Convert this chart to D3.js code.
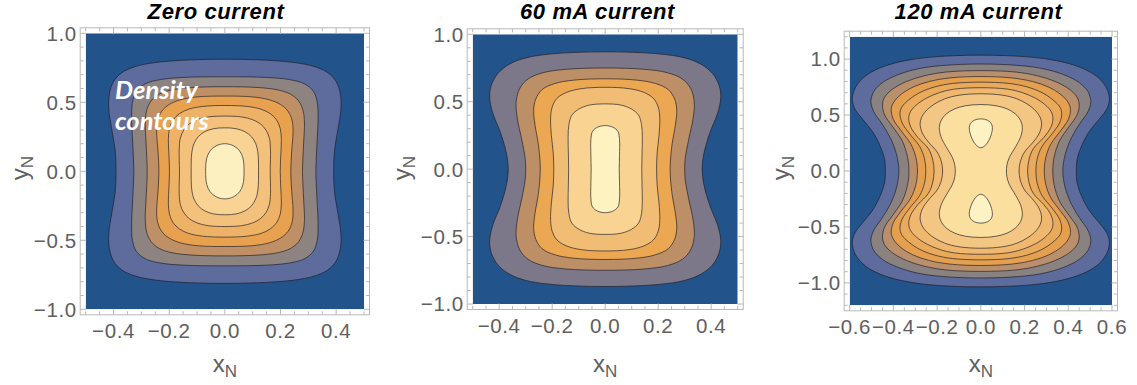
<!DOCTYPE html>
<html><head><meta charset="utf-8">
<script src="https://cdn.jsdelivr.net/npm/d3@7"></script>
<style>body{margin:0;background:#fff;} svg{display:block;}</style>
</head><body>
<svg id="chart" width="1137" height="385"></svg>
<script>
// ---------------- data ----------------
const titles = ["Zero current", "60 mA current", "120 mA current"];
const xDomains = [[-0.5, 0.5], [-0.5, 0.5], [-0.6, 0.6]];
const yDomains = [[-1, 1], [-1, 1], [-1.2, 1.2]];
const xTickValues = [[-0.4, -0.2, 0, 0.2, 0.4], [-0.4, -0.2, 0, 0.2, 0.4], [-0.6, -0.4, -0.2, 0, 0.2, 0.4, 0.6]];
const yTickValues = [[-1, -0.5, 0, 0.5, 1], [-1, -0.5, 0, 0.5, 1], [-1, -0.5, 0, 0.5, 1]];
const xMinorStep = 0.05, yMinorStep = 0.1;
const annotation = ["Density", "contours"];

// Density contour levels: one quadrant (x>=0, y>=0), from (0, top) to (halfwidth, 0)
const contoursZero = [
  [[0,0.812],[0.15,0.805],[0.25,0.788],[0.32,0.76],[0.37,0.715],[0.40,0.65],[0.415,0.56],[0.417,0.45],[0.406,0.3],[0.394,0.15],[0.391,0]],
  [[0,0.685],[0.15,0.68],[0.23,0.665],[0.285,0.635],[0.318,0.58],[0.332,0.5],[0.335,0.38],[0.331,0.2],[0.327,0]],
  [[0,0.613],[0.12,0.607],[0.19,0.59],[0.235,0.56],[0.265,0.51],[0.281,0.44],[0.286,0.35],[0.283,0.2],[0.279,0]],
  [[0,0.545],[0.1,0.539],[0.16,0.518],[0.2,0.484],[0.227,0.435],[0.242,0.365],[0.245,0.28],[0.24,0.14],[0.237,0]],
  [[0,0.477],[0.08,0.47],[0.13,0.45],[0.163,0.418],[0.186,0.372],[0.199,0.31],[0.203,0.23],[0.201,0.12],[0.199,0]],
  [[0,0.40],[0.06,0.394],[0.1,0.374],[0.128,0.343],[0.148,0.298],[0.16,0.24],[0.164,0.16],[0.163,0]],
  [[0,0.315],[0.04,0.309],[0.072,0.287],[0.095,0.252],[0.111,0.2],[0.119,0.13],[0.121,0]],
  [[0,0.20],[0.032,0.184],[0.053,0.148],[0.065,0.095],[0.069,0]]
];
const contours60 = [
  [[0,0.87],[0.2,0.855],[0.3,0.825],[0.36,0.78],[0.405,0.71],[0.43,0.62],[0.436,0.53],[0.425,0.42],[0.395,0.27],[0.373,0.12],[0.366,0]],
  [[0,0.75],[0.15,0.74],[0.235,0.715],[0.29,0.67],[0.322,0.6],[0.336,0.5],[0.332,0.38],[0.315,0.22],[0.302,0.08],[0.3,0]],
  [[0,0.67],[0.12,0.66],[0.19,0.635],[0.238,0.59],[0.262,0.52],[0.27,0.44],[0.265,0.33],[0.252,0.18],[0.245,0]],
  [[0,0.607],[0.09,0.597],[0.145,0.57],[0.182,0.525],[0.2,0.46],[0.206,0.38],[0.203,0.25],[0.196,0.12],[0.194,0]],
  [[0,0.484],[0.06,0.475],[0.1,0.445],[0.126,0.4],[0.137,0.33],[0.14,0.24],[0.139,0.12],[0.138,0]],
  [[0,0.323],[0.03,0.31],[0.048,0.28],[0.054,0.22],[0.054,0.1],[0.053,0]]
];
const contours120 = [
  [[0,1.035],[0.2,1.022],[0.32,0.995],[0.42,0.95],[0.5,0.885],[0.55,0.81],[0.58,0.72],[0.588,0.63],[0.575,0.55],[0.54,0.46],[0.495,0.35],[0.46,0.22],[0.44,0.1],[0.437,0]],
  [[0,0.956],[0.18,0.942],[0.29,0.912],[0.38,0.86],[0.45,0.79],[0.49,0.71],[0.503,0.62],[0.49,0.53],[0.455,0.43],[0.415,0.3],[0.386,0.15],[0.375,0]],
  [[0,0.897],[0.16,0.884],[0.26,0.85],[0.34,0.8],[0.405,0.73],[0.44,0.66],[0.45,0.59],[0.44,0.5],[0.405,0.4],[0.36,0.27],[0.336,0.13],[0.329,0]],
  [[0,0.844],[0.14,0.832],[0.235,0.8],[0.31,0.75],[0.368,0.68],[0.4,0.61],[0.41,0.55],[0.4,0.46],[0.365,0.36],[0.32,0.24],[0.297,0.12],[0.29,0]],
  [[0,0.794],[0.13,0.782],[0.21,0.752],[0.28,0.7],[0.33,0.635],[0.362,0.57],[0.37,0.51],[0.36,0.43],[0.325,0.33],[0.28,0.22],[0.258,0.11],[0.252,0]],
  [[0,0.744],[0.12,0.732],[0.19,0.7],[0.25,0.65],[0.295,0.59],[0.322,0.53],[0.33,0.47],[0.32,0.39],[0.288,0.3],[0.24,0.2],[0.22,0.1],[0.214,0]],
  [[0,0.69],[0.1,0.677],[0.165,0.645],[0.215,0.595],[0.252,0.535],[0.272,0.475],[0.278,0.42],[0.268,0.34],[0.24,0.26],[0.2,0.17],[0.18,0.08],[0.175,0]],
  [[0,0.594],[0.07,0.583],[0.12,0.555],[0.158,0.51],[0.182,0.45],[0.19,0.39],[0.183,0.31],[0.16,0.22],[0.13,0.12],[0.119,0.05],[0.117,0]]
];
// upper density peak of the 120 mA case: right half from top to bottom (mirrored to the lower peak)
const island120 = [[0,0.466],[0.03,0.454],[0.047,0.426],[0.053,0.388],[0.049,0.335],[0.037,0.275],[0.02,0.228],[0,0.208]];

const colorsZero = ["#22538a","#5d6c9d","#8d8481","#bf9066","#e8a24f","#eeb266","#f3c17c","#f9d393","#fdf0c0"];
const colors60   = ["#22538a","#7c7889","#bd8f66","#eba751","#f1bd75","#f9d391","#fdf2c0"];
const colors120  = ["#22538a","#5d6c9d","#8a8281","#b98f6c","#e5a04f","#eaaa5b","#efb86e","#f4c683","#fbdf9f","#fdf2c4"];

// ---------------- layout ----------------
const layouts = [
  {x0: 85.7, x1: 364.0, y0: 33.3, y1: 309.3, titleX: 216, yLabX: 28},
  {x0: 472.7, x1: 737.7, y0: 34.3, y1: 304.0, titleX: 597.5, yLabX: 410},
  {x0: 849.7, x1: 1112.0, y0: 36.7, y1: 305.3, titleX: 978.5, yLabX: 789}
];
const pad = 5.5;
const contourSets = [contoursZero, contours60, contours120];
const colorSets = [colorsZero, colors60, colors120];
const islandSets = [null, null, island120];

const svg = d3.select("#chart");
const fmt = d3.format(".1f");
const tickColor = "#606060";

function fullLoop(q) {
  const n = q.length, pts = [];
  for (let i = 0; i < n; i++) pts.push([q[i][0], q[i][1]]);
  for (let i = n - 2; i >= 0; i--) pts.push([q[i][0], -q[i][1]]);
  for (let i = 1; i < n; i++) pts.push([-q[i][0], -q[i][1]]);
  for (let i = n - 2; i >= 1; i--) pts.push([-q[i][0], q[i][1]]);
  return pts;
}
function halfLoop(r, sign) {
  const pts = r.map(([x, y]) => [x, sign * y]);
  for (let i = r.length - 2; i >= 1; i--) pts.push([-r[i][0], sign * r[i][1]]);
  return pts;
}
function range(a, b, s) {
  const out = [];
  const n = Math.round((b - a) / s);
  for (let i = 0; i <= n; i++) out.push(+(a + i * s).toFixed(4));
  return out;
}

layouts.forEach((L, p) => {
  const x = d3.scaleLinear().domain(xDomains[p]).range([L.x0, L.x1]);
  const y = d3.scaleLinear().domain(yDomains[p]).range([L.y1, L.y0]);
  const g = svg.append("g");
  const colors = colorSets[p];
  const clipId = "clip" + p;
  g.append("clipPath").attr("id", clipId).append("rect")
    .attr("x", L.x0).attr("y", L.y0).attr("width", L.x1 - L.x0).attr("height", L.y1 - L.y0);
  const plot = g.append("g").attr("clip-path", `url(#${clipId})`);
  plot.append("rect").attr("x", L.x0).attr("y", L.y0).attr("width", L.x1 - L.x0).attr("height", L.y1 - L.y0)
    .attr("fill", colors[0]);
  const line = d3.line().x(d => x(d[0])).y(d => y(d[1])).curve(d3.curveCatmullRomClosed.alpha(0.5));
  contourSets[p].forEach((q, i) => {
    plot.append("path").attr("d", line(fullLoop(q)))
      .attr("fill", colors[i + 1]).attr("stroke", "rgba(30,30,40,0.75)").attr("stroke-width", 0.9);
  });
  if (islandSets[p]) {
    [1, -1].forEach(s => {
      plot.append("path").attr("d", line(halfLoop(islandSets[p], s)))
        .attr("fill", colors[colors.length - 1]).attr("stroke", "rgba(30,30,40,0.75)").attr("stroke-width", 0.9);
    });
  }
  // frame
  const fx0 = L.x0 - pad, fx1 = L.x1 + pad, fy0 = L.y0 - pad, fy1 = L.y1 + pad;
  g.append("rect").attr("x", fx0).attr("y", fy0).attr("width", fx1 - fx0).attr("height", fy1 - fy0)
    .attr("fill", "none").attr("stroke", "#b8b8b8").attr("stroke-width", 1);
  const xd = xDomains[p], yd = yDomains[p];
  const isMajor = (v, arr) => arr.some(t => Math.abs(t - v) < 1e-6);
  range(xd[0], xd[1], xMinorStep).forEach(v => {
    const len = isMajor(v, xTickValues[p]) ? 6 : 3.5;
    const xx = x(v);
    g.append("line").attr("x1", xx).attr("x2", xx).attr("y1", fy1).attr("y2", fy1 - len).attr("stroke", "#b8b8b8");
    g.append("line").attr("x1", xx).attr("x2", xx).attr("y1", fy0).attr("y2", fy0 + len).attr("stroke", "#b8b8b8");
  });
  range(yd[0], yd[1], yMinorStep).forEach(v => {
    const len = isMajor(v, yTickValues[p]) ? 6 : 3.5;
    const yy = y(v);
    g.append("line").attr("y1", yy).attr("y2", yy).attr("x1", fx0).attr("x2", fx0 + len).attr("stroke", "#b8b8b8");
    g.append("line").attr("y1", yy).attr("y2", yy).attr("x1", fx1).attr("x2", fx1 - len).attr("stroke", "#b8b8b8");
  });
  // tick labels
  xTickValues[p].forEach(v => {
    g.append("text").attr("x", x(v)).attr("y", fy1 + 23.5).attr("text-anchor", "middle")
      .attr("font-family", "Liberation Sans, Arial, sans-serif").attr("font-size", 20.5).attr("fill", tickColor)
      .attr("letter-spacing", 0.6).text(fmt(v));
  });
  yTickValues[p].forEach(v => {
    g.append("text").attr("x", fx0 - 3.5).attr("y", y(v)).attr("dy", "0.36em").attr("text-anchor", "end")
      .attr("font-family", "Liberation Sans, Arial, sans-serif").attr("font-size", 20.5).attr("fill", tickColor)
      .attr("letter-spacing", 0.6).text(fmt(v));
  });
  // title
  g.append("text").attr("x", L.titleX).attr("y", 18.5).attr("text-anchor", "middle")
    .attr("font-family", "Liberation Sans, Arial, sans-serif").attr("font-size", 22).attr("font-weight", "bold")
    .attr("font-style", "italic").attr("letter-spacing", 0.6).attr("fill", "#000").text(titles[p]);
  // axis labels
  const cx = (L.x0 + L.x1) / 2;
  const xl = g.append("text").attr("x", cx).attr("y", 372).attr("text-anchor", "middle")
    .attr("font-family", "Liberation Sans, Arial, sans-serif").attr("font-size", 24).attr("fill", tickColor);
  xl.append("tspan").text("x");
  xl.append("tspan").attr("font-size", 17).attr("dy", 5).text("N");
  const yl = g.append("text").attr("transform", `translate(${L.yLabX},168) rotate(-90)`).attr("text-anchor", "middle")
    .attr("font-family", "Liberation Sans, Arial, sans-serif").attr("font-size", 24).attr("fill", tickColor);
  yl.append("tspan").text("y");
  yl.append("tspan").attr("font-size", 17).attr("dy", 5).text("N");
});

// annotation on first panel
const ann = svg.append("text").attr("font-family", "Lato, sans-serif").attr("font-weight", "bold")
  .attr("font-style", "italic").attr("font-size", 25.5).attr("fill", "#fff");
ann.append("tspan").attr("x", 115).attr("y", 99).text(annotation[0]);
ann.append("tspan").attr("x", 115).attr("y", 130).text(annotation[1]);
</script>
</body></html>
